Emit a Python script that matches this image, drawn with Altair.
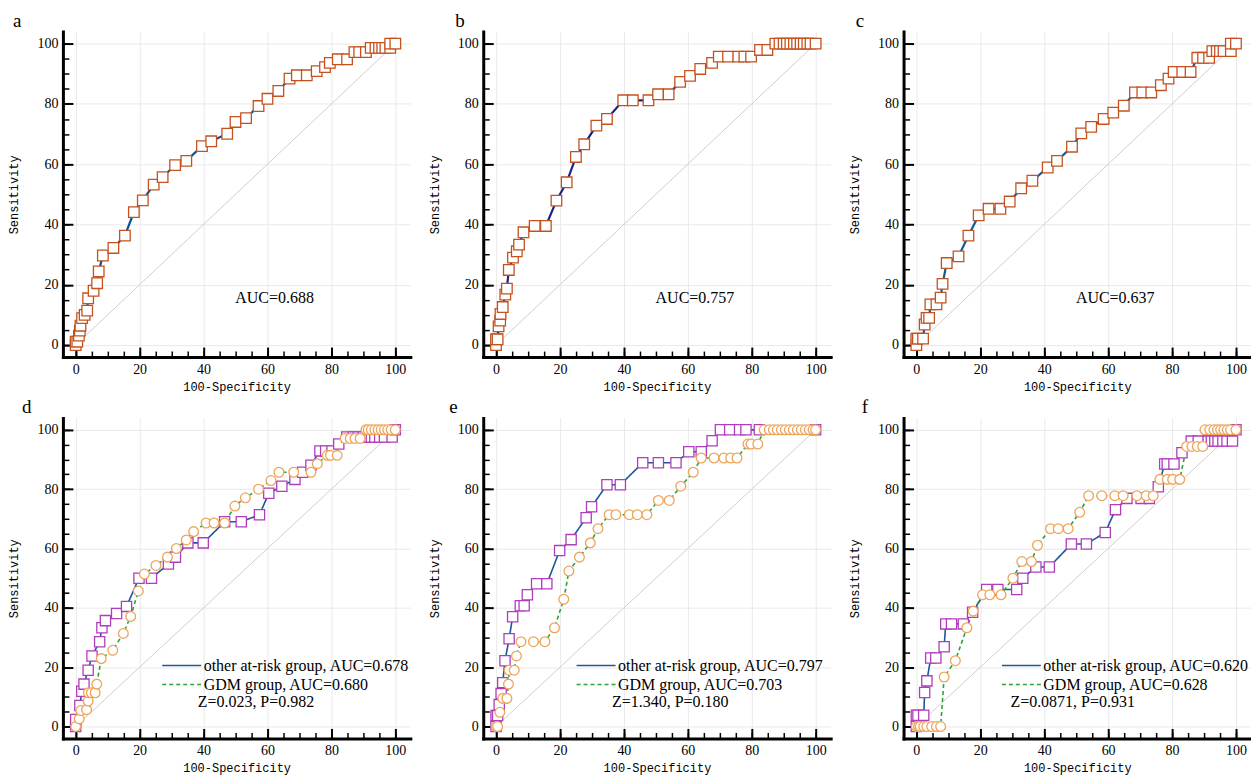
import altair as alt
import pandas as pd

# ---------------- data ----------------
A_X = [0, 0, 0.5, 1.0, 1.3, 1.5, 2.0, 2.8, 3.6, 3.9, 5.6, 6.7, 7.2, 8.5, 11.8, 15.4, 18.2, 21.0, 24.4, 27.2,
       31.1, 34.6, 39.5, 42.4, 47.4, 50.0, 53.3, 57.2, 60.0, 63.4, 66.9, 69.2, 72.3, 75.4, 78.0, 79.5, 82.0, 84.9,
       87.2, 88.7, 90.8, 92.3, 93.8, 94.9, 95.9, 96.9, 98.4, 98.4, 100]
A_Y = [0, 1.1, 1.1, 3.1, 4.8, 6.4, 8.9, 10.0, 11.4, 15.5, 18.0, 20.5, 24.4, 29.7, 32.2, 36.3, 44.1, 48.0, 53.2, 55.7,
       59.7, 61.1, 66.0, 67.6, 70.1, 74.0, 75.3, 79.3, 81.7, 84.3, 88.4, 89.5, 89.5, 90.9, 92.2, 93.6, 94.8, 94.8,
       97.2, 97.2, 97.2, 98.6, 98.6, 98.6, 98.6, 98.6, 98.6, 100, 100]

B_X = [0, 0, 0.5, 0.8, 1.3, 1.4, 2.1, 2.9, 3.4, 4.0, 5.3, 6.5, 7.2, 8.6, 12.1, 15.6, 18.9, 22.1, 25.0, 27.6,
       31.4, 34.7, 39.8, 42.8, 47.7, 50.7, 54.0, 57.6, 60.7, 63.9, 67.6, 69.7, 72.6, 75.8, 77.7, 79.8, 82.6, 84.9,
       87.4, 88.7, 90.0, 91.0, 92.1, 93.2, 94.2, 95.3, 96.3, 97.4, 98.4, 100]
B_Y = [0, 1.9, 1.9, 6.2, 8.1, 10.3, 12.6, 16.7, 18.7, 24.9, 29.0, 31.1, 33.3, 37.4, 39.5, 39.5, 47.9, 54.0, 62.4, 66.6,
       72.8, 75.0, 81.2, 81.2, 81.2, 83.2, 83.2, 87.3, 89.3, 91.6, 93.6, 95.7, 95.7, 95.7, 95.7, 95.7, 97.9, 97.9,
       100, 100, 100, 100, 100, 100, 100, 100, 100, 100, 100, 100]

C_X = [0, 0, 0.5, 2.1, 2.6, 3.2, 4.0, 4.4, 6.3, 7.6, 8.2, 9.5, 13.2, 16.3, 19.5, 22.6, 26.3, 29.2, 32.8, 36.3,
       41.1, 44.0, 48.7, 51.6, 54.7, 58.6, 61.6, 64.9, 68.4, 70.7, 73.5, 76.5, 78.9, 80.5, 83.2, 85.8, 87.9, 89.7,
       91.6, 92.6, 94.0, 95.0, 96.1, 98.4, 98.4, 100]
C_Y = [0, 2.1, 2.1, 2.1, 6.8, 9.0, 9.0, 13.5, 13.5, 15.7, 20.3, 27.2, 29.4, 36.3, 43.0, 45.2, 45.2, 47.6, 52.0, 54.5,
       58.9, 61.1, 65.8, 70.2, 72.4, 75.0, 77.1, 79.4, 83.8, 83.8, 83.8, 86.2, 88.4, 90.6, 90.6, 90.6, 95.3, 95.3,
       95.3, 97.5, 97.5, 97.5, 97.5, 97.5, 100, 100]

D_OTHER_X = [0, 0, 1.3, 1.9, 2.6, 3.9, 5.1, 7.5, 8.2, 9.3, 12.8, 15.9, 19.8, 23.7, 29.0, 31.2, 35.1, 39.9, 46.6, 51.8,
             57.5, 60.4, 64.5, 68.6, 71.0, 73.6, 76.4, 78.2, 80.2, 82.3, 84.8, 86.9, 88.4, 90.0, 91.5, 92.5, 93.6,
             95.1, 96.6, 99.0, 100]
D_OTHER_Y = [0, 2.4, 7.1, 11.9, 14.3, 19.0, 23.8, 28.6, 33.3, 35.7, 38.1, 40.5, 50.0, 50.0, 54.8, 57.1, 61.9, 61.9,
             69.0, 69.0, 71.4, 78.6, 81.0, 83.3, 85.7, 88.1, 92.9, 92.9, 92.9, 95.2, 97.6, 97.6, 97.6, 97.6, 97.6,
             97.6, 97.6, 97.6, 97.6, 97.6, 100]
D_GDM_X = [0, 1.1, 1.6, 3.4, 3.9, 4.0, 4.9, 6.1, 6.6, 8.0, 11.6, 14.9, 17.2, 19.6, 21.5, 25.1, 28.7, 31.5, 34.6, 36.9,
           40.8, 43.3, 46.6, 49.8, 53.1, 57.2, 61.1, 63.6, 68.2, 73.6, 75.6, 78.7, 79.7, 81.8, 84.3, 85.9, 87.4, 89.0,
           90.8, 91.5, 92.5, 93.6, 94.6, 95.6, 96.6, 97.6, 98.7, 100]
D_GDM_Y = [0, 2.6, 5.4, 5.7, 8.6, 11.4, 11.4, 11.4, 14.3, 22.9, 25.7, 31.4, 37.1, 45.7, 51.4, 54.3, 57.1, 60.0, 62.9,
           65.7, 68.6, 68.6, 68.6, 74.3, 77.1, 80.0, 82.9, 85.7, 85.7, 85.7, 88.6, 91.4, 91.4, 91.4, 97.1, 97.1, 97.1,
           97.1, 100, 100, 100, 100, 100, 100, 100, 100, 100, 100]

E_OTHER_X = [0, 0, 0.5, 1.0, 1.6, 2.1, 2.8, 4.1, 5.2, 7.6, 8.8, 9.8, 12.7, 15.9, 19.9, 23.5, 28.2, 29.9, 34.7, 38.9,
             45.9, 50.8, 56.3, 60.3, 64.2, 67.6, 70.2, 73.1, 76.2, 78.2, 82.4, 100]
E_OTHER_Y = [0, 3.7, 3.7, 7.4, 11.1, 14.8, 22.2, 29.6, 37.0, 40.7, 40.7, 44.4, 48.1, 48.1, 59.3, 63.0, 70.4, 74.1,
             81.5, 81.5, 88.9, 88.9, 88.9, 92.6, 92.6, 96.3, 100, 100, 100, 100, 100, 100]
E_GDM_X = [0, 0.5, 1.2, 2.1, 3.4, 3.9, 4.1, 5.7, 6.4, 7.8, 11.7, 15.3, 18.3, 21.2, 22.8, 26.1, 29.5, 31.9, 35.4, 37.5,
           41.7, 44.2, 47.2, 50.8, 54.2, 57.8, 61.7, 64.2, 68.2, 71.3, 73.4, 75.4, 78.8, 79.8, 81.9, 83.9, 85.5, 86.8,
           88.0, 89.3, 90.5, 91.8, 93.0, 94.3, 95.5, 96.8, 98.0, 99.2, 100]
E_GDM_Y = [0, 0, 4.8, 9.5, 9.5, 14.3, 19.0, 19.0, 23.8, 28.6, 28.6, 28.6, 33.3, 42.9, 52.4, 57.1, 61.9, 66.7, 71.4,
           71.4, 71.4, 71.4, 71.4, 76.2, 76.2, 81.0, 85.7, 90.5, 90.5, 90.5, 90.5, 90.5, 95.2, 95.2, 95.2, 100, 100,
           100, 100, 100, 100, 100, 100, 100, 100, 100, 100, 100, 100]

F_OTHER_X = [0, 0, 0.5, 2.3, 2.6, 3.3, 4.5, 6.1, 8.7, 9.2, 11.0, 14.7, 17.6, 22.0, 25.5, 31.4, 33.3, 37.4, 41.6, 48.5,
             53.2, 59.1, 62.3, 65.9, 70.3, 72.9, 75.7, 77.7, 78.5, 80.6, 83.1, 86.0, 88.2, 91.3, 92.3, 93.4, 94.4,
             95.9, 97.2, 98.9, 100]
F_OTHER_Y = [0, 3.8, 3.8, 3.8, 11.5, 15.4, 23.1, 23.1, 26.9, 34.6, 34.6, 34.6, 38.5, 46.2, 46.2, 46.2, 50.0, 53.8,
             53.8, 61.5, 61.5, 65.4, 73.1, 76.9, 76.9, 76.9, 80.8, 88.5, 88.5, 88.5, 92.3, 96.2, 96.2, 96.2, 96.2,
             96.2, 96.2, 96.2, 96.2, 96.2, 100]
F_GDM_X = [0, 0.7, 1.2, 2.3, 3.3, 4.8, 6.3, 7.6, 8.7, 12.2, 15.8, 17.8, 20.7, 23.0, 26.5, 30.2, 33.0, 36.0, 37.9, 42.0,
           44.4, 47.5, 51.1, 53.9, 58.0, 62.1, 64.7, 69.0, 71.9, 74.1, 76.2, 78.5, 80.2, 82.4, 84.6, 86.2, 87.9, 89.6,
           90.3, 91.8, 93.1, 94.2, 95.2, 96.2, 97.3, 98.3, 100]
F_GDM_Y = [0, 0, 0, 0, 0, 0, 0, 0, 16.7, 22.2, 33.3, 38.9, 44.4, 44.4, 44.4, 50.0, 55.6, 55.6, 61.1, 66.7, 66.7, 66.7,
           72.2, 77.8, 77.8, 77.8, 77.8, 77.8, 77.8, 77.8, 83.3, 83.3, 83.3, 83.3, 94.4, 94.4, 94.4, 94.4, 100, 100,
           100, 100, 100, 100, 100, 100, 100]

DIAG = [0, 100]
TICKS_MAJOR = [0, 20, 40, 60, 80, 100]
TICKS_MINOR = list(range(0, 101, 5))

TOP_AUC = ["AUC=0.688", "AUC=0.757", "AUC=0.637"]
OTHER_LABELS = ["other at-risk group, AUC=0.678", "other at-risk group, AUC=0.797", "other at-risk group, AUC=0.620"]
GDM_LABELS = ["GDM group, AUC=0.680", "GDM group, AUC=0.703", "GDM group, AUC=0.628"]
ZP_LABELS = ["Z=0.023, P=0.982", "Z=1.340, P=0.180", "Z=0.0871, P=0.931"]
LETTERS = ["a", "b", "c", "d", "e", "f"]
X_TITLE = "100-Specificity"
Y_TITLE = "Sensitivity"

# ---------------- styling ----------------
SERIF = "Liberation Serif"
MONO = "Liberation Mono"
W = 348
H_TOP, H_BOT = 326, 321
XDOM = [-4, 104.7]
YDOM = [-4, 104]
GRID_C = "#e9e9e9"
DIAG_C = "#d6cccc"
SQ_TOP = "#c4521f"
TOP_LINES = ["#0f4f8e", "#1b1f88", "#0d5c9e"]
SQ_BOT = "#b13dbd"
CIRC_BOT = "#eea55a"
OTHER_LINE = "#1d5796"
GDM_LINE = "#2aa33a"
LETTER_DX = [-50, -28, -48, -41, -34, -42]
LEG_X = [98, 92, 97]
ZP_X = [135, 129, 107]


def sx():
    return alt.Scale(domain=XDOM, nice=False, zero=False)


def sy():
    return alt.Scale(domain=YDOM, nice=False, zero=False)


def ax_grid(orient):
    return alt.Axis(orient=orient, values=TICKS_MAJOR, grid=True, gridColor=GRID_C, gridWidth=1,
                    domain=True, domainColor="black", domainWidth=3, domainCap="square",
                    ticks=False, labels=False, title=None)


def ax_major(orient, title):
    return alt.Axis(orient=orient, values=TICKS_MAJOR, offset=-10, tickSize=10, tickWidth=2,
                    tickColor="black", domain=False, grid=False, labelFont=SERIF, labelFontSize=14,
                    labelColor="black", labelPadding=5, labelFlush=False, labelOverlap=False,
                    title=title, titleFont=MONO, titleFontSize=12, titleFontWeight="normal",
                    titleColor="black", titlePadding=(16 if orient == "left" else 5))


def ax_minor(orient):
    return alt.Axis(orient=orient, values=TICKS_MINOR, offset=-6, tickSize=6, tickWidth=1.5,
                    tickColor="black", domain=False, grid=False, labels=False, title=None)


def diag_layer():
    df = pd.DataFrame({"x": DIAG, "y": DIAG})
    return alt.Chart(df).mark_line(color=DIAG_C, strokeWidth=1).encode(
        x=alt.X("x:Q", scale=sx(), axis=ax_grid("bottom")),
        y=alt.Y("y:Q", scale=sy(), axis=ax_grid("left")),
    )


def wrap(idx, layers, h):
    return alt.layer(*layers).resolve_axis(x="independent", y="independent").properties(
        width=W, height=h,
        title=alt.TitleParams(LETTERS[idx], anchor="start", frame="group", dx=LETTER_DX[idx], font=SERIF,
                              fontSize=19, fontWeight="normal", color="black", offset=1),
    )


def top_panel(k, xs, ys):
    df = pd.DataFrame({"x": xs, "y": ys, "i": list(range(len(xs)))})
    line = alt.Chart(df).mark_line(color=TOP_LINES[k], strokeWidth=2.2).encode(
        x=alt.X("x:Q", scale=sx(), axis=ax_major("bottom", X_TITLE)),
        y=alt.Y("y:Q", scale=sy(), axis=ax_major("left", Y_TITLE)),
        order=alt.Order("i:Q"),
    )
    pts = alt.Chart(df).mark_point(shape="square", size=112, fill="white", stroke=SQ_TOP,
                                   strokeWidth=1.3, opacity=1).encode(
        x=alt.X("x:Q", scale=sx(), axis=ax_minor("bottom")),
        y=alt.Y("y:Q", scale=sy(), axis=ax_minor("left")),
    )
    txt = alt.Chart(pd.DataFrame({"t": [TOP_AUC[k]]})).mark_text(
        font=SERIF, fontSize=16, align="center", baseline="middle", color="black"
    ).encode(x=alt.value(212), y=alt.value(267), text="t:N")
    return wrap(k, [diag_layer(), line, pts, txt], H_TOP)


def bottom_panel(k, ox, oy, gx, gy):
    lo, lg = OTHER_LABELS[k], GDM_LABELS[k]
    df_o = pd.DataFrame({"x": ox, "y": oy, "g": lo, "i": list(range(len(ox)))})
    df_g = pd.DataFrame({"x": gx, "y": gy, "g": lg, "i": list(range(len(gx)))})
    df_l = pd.concat([df_o, df_g], ignore_index=True)
    leg = alt.Legend(title=None, orient="none", legendX=LEG_X[k], legendY=240, symbolType="M-1,0H5",
                     symbolSize=169, symbolStrokeWidth=1.5, labelFont=SERIF, labelFontSize=16,
                     labelColor="black", labelOffset=27, rowPadding=3, padding=0, labelLimit=0,
                     direction="vertical")
    lines = alt.Chart(df_l).mark_line(strokeWidth=1.6).encode(
        x=alt.X("x:Q", scale=sx(), axis=ax_major("bottom", X_TITLE)),
        y=alt.Y("y:Q", scale=sy(), axis=ax_major("left", Y_TITLE)),
        color=alt.Color("g:N", scale=alt.Scale(domain=[lo, lg], range=[OTHER_LINE, GDM_LINE]), legend=leg),
        strokeDash=alt.StrokeDash("g:N", scale=alt.Scale(domain=[lo, lg], range=[[1, 0], [4, 3]]), legend=leg),
        order=alt.Order("i:Q"),
    )
    sq = alt.Chart(df_o).mark_point(shape="square", size=105, fill="white", stroke=SQ_BOT,
                                    strokeWidth=1.3, opacity=1).encode(
        x=alt.X("x:Q", scale=sx(), axis=ax_minor("bottom")),
        y=alt.Y("y:Q", scale=sy(), axis=ax_minor("left")),
    )
    ci = alt.Chart(df_g).mark_point(shape="circle", size=95, fill="white", stroke=CIRC_BOT,
                                    strokeWidth=1.3, opacity=1).encode(
        x=alt.X("x:Q", scale=sx(), axis=None),
        y=alt.Y("y:Q", scale=sy(), axis=None),
    )
    zp = alt.Chart(pd.DataFrame({"t": [ZP_LABELS[k]]})).mark_text(
        font=SERIF, fontSize=16, align="left", baseline="middle", color="black"
    ).encode(x=alt.value(ZP_X[k]), y=alt.value(285), text="t:N")
    return wrap(k + 3, [diag_layer(), lines, sq, ci, zp], H_BOT)


top = alt.hconcat(top_panel(0, A_X, A_Y), top_panel(1, B_X, B_Y), top_panel(2, C_X, C_Y), spacing=18)
bottom = alt.hconcat(
    bottom_panel(0, D_OTHER_X, D_OTHER_Y, D_GDM_X, D_GDM_Y),
    bottom_panel(1, E_OTHER_X, E_OTHER_Y, E_GDM_X, E_GDM_Y),
    bottom_panel(2, F_OTHER_X, F_OTHER_Y, F_GDM_X, F_GDM_Y),
    spacing=18,
).resolve_scale(color="independent", strokeDash="independent").resolve_legend(
    color="independent", strokeDash="independent")
chart = alt.vconcat(top, bottom, spacing=6).resolve_scale(
    color="independent", strokeDash="independent").resolve_legend(
    color="independent", strokeDash="independent").properties(
    padding={"left": 0, "top": 3, "right": 0, "bottom": 2}, background="white").configure_view(
    strokeWidth=0
)

chart.save("out.html", embed_options={"renderer": "svg", "actions": False})
